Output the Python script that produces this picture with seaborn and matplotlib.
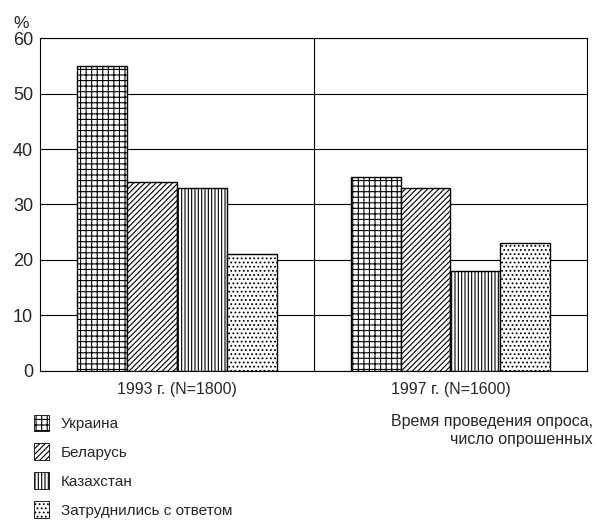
import matplotlib
matplotlib.use("Agg")
import matplotlib.pyplot as plt
import matplotlib.patches as mpatches
import seaborn as sns
import pandas as pd

# данные опроса
years = ["1993 г. (N=1800)", "1997 г. (N=1600)"]
countries = ["Украина", "Беларусь", "Казахстан", "Затруднились с ответом"]
ukraine = [55, 35]
belarus = [34, 33]
kazakhstan = [33, 18]
hard_to_say = [21, 23]
y_ticks = [0, 10, 20, 30, 40, 50, 60]

hatches = ["+++", "//////", "|||||", "...."]

sns.set_style("white")
plt.rcParams["font.family"] = ["Liberation Sans", "DejaVu Sans"]
plt.rcParams["hatch.linewidth"] = 0.8

rows = []
for country, vals in zip(countries, [ukraine, belarus, kazakhstan, hard_to_say]):
    for yr, v in zip(years, vals):
        rows.append({"year": yr, "country": country, "value": v})
df = pd.DataFrame(rows)

fig = plt.figure(figsize=(5.98, 5.21), dpi=100)
ax = fig.add_axes([0.067, 0.288, 0.915, 0.639])

sns.barplot(data=df, x="year", y="value", hue="country", order=years,
            hue_order=countries, palette=["white"] * 4, edgecolor="black",
            linewidth=1.0, width=0.73, gap=0, legend=False, ax=ax, zorder=3)

for cont, h in zip(ax.containers, hatches):
    for bar in cont:
        bar.set_hatch(h)

ax.set_ylim(0, 60)
ax.set_xlim(-0.5, 1.5)
ax.set_yticks(y_ticks)
ax.set_yticklabels([str(t) for t in y_ticks], fontsize=13)
ax.tick_params(axis="x", labelsize=11.5, length=0, pad=8)
ax.tick_params(axis="y", length=0, pad=5)
ax.set_xlabel("")
ax.set_ylabel("")
ax.grid(axis="y", color="black", linewidth=0.8, zorder=0)
ax.axvline(0.5, color="black", linewidth=0.8, zorder=0)
for s in ax.spines.values():
    s.set_color("black")
    s.set_linewidth(0.8)

ax.text(-0.035, 1.02, "%", transform=ax.transAxes, fontsize=12.5, ha="center", va="bottom")
ax.text(1.01, -0.13, "Время проведения опроса,\nчисло опрошенных", transform=ax.transAxes,
        fontsize=11.5, ha="right", va="top", linespacing=1.25)

handles = [mpatches.Patch(facecolor="white", edgecolor="black", hatch=h, linewidth=0.6, label=c)
           for c, h in zip(countries, hatches)]
fig.legend(handles=handles, loc="upper left", bbox_to_anchor=(0.047, 0.216), frameon=False,
           fontsize=11, handlelength=1.0, handleheight=1.3, handletextpad=0.75,
           labelspacing=0.8, borderaxespad=0)

fig.savefig("out.png", dpi=100)
